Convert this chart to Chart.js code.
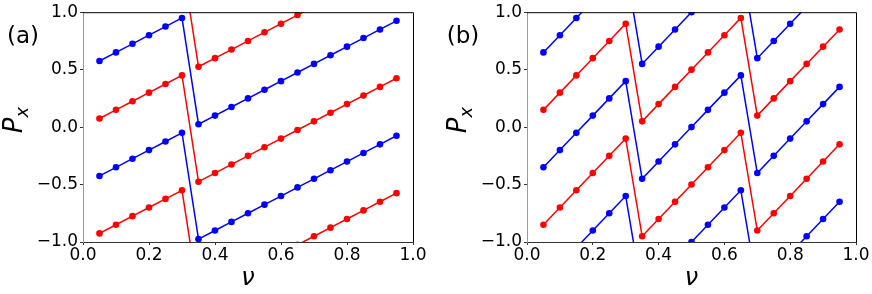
<!DOCTYPE html>
<html>
<head>
<meta charset="utf-8">
<script src="https://cdn.jsdelivr.net/npm/chart.js@4.4.1/dist/chart.umd.min.js"></script>
<style>
  body { margin: 0; background: #fff; }
  #wrap { position: relative; width: 872px; height: 294px; }
  canvas { position: absolute; top: 0; }
</style>
</head>
<body>
<div id="wrap">
  <canvas id="chartA" width="436" height="294" style="left:0"></canvas>
  <canvas id="chartB" width="436" height="294" style="left:436px"></canvas>
</div>
<script>
/* -------- DATA -------- */
const nu = [0.05, 0.10, 0.15, 0.20, 0.25, 0.30, 0.35, 0.40, 0.45, 0.50,
            0.55, 0.60, 0.65, 0.70, 0.75, 0.80, 0.85, 0.90, 0.95];

const xTicks = [0.0, 0.2, 0.4, 0.6, 0.8, 1.0];
const yTicks = [-1.0, -0.5, 0.0, 0.5, 1.0];

// panel (a)
const aBlue1 = [0.575, 0.65, 0.725, 0.80, 0.875, 0.95, 0.025, 0.10, 0.175, 0.25,
                0.325, 0.40, 0.475, 0.55, 0.625, 0.70, 0.775, 0.85, 0.925];
const aBlue2 = [-0.425, -0.35, -0.275, -0.20, -0.125, -0.05, -0.975, -0.90, -0.825, -0.75,
                -0.675, -0.60, -0.525, -0.45, -0.375, -0.30, -0.225, -0.15, -0.075];
const aRed1  = [1.075, 1.15, 1.225, 1.30, 1.375, 1.45, 0.525, 0.60, 0.675, 0.75,
                0.825, 0.90, 0.975, 1.05, 1.125, 1.20, 1.275, 1.35, 1.425];
const aRed2  = [0.075, 0.15, 0.225, 0.30, 0.375, 0.45, -0.475, -0.40, -0.325, -0.25,
                -0.175, -0.10, -0.025, 0.05, 0.125, 0.20, 0.275, 0.35, 0.425];
const aRed3  = [-0.925, -0.85, -0.775, -0.70, -0.625, -0.55, -1.475, -1.40, -1.325, -1.25,
                -1.175, -1.10, -1.025, -0.95, -0.875, -0.80, -0.725, -0.65, -0.575];

// panel (b)
const bBlue1 = [0.65, 0.80, 0.95, 1.10, 1.25, 1.40, 0.55, 0.70, 0.85, 1.00,
                1.15, 1.30, 1.45, 0.60, 0.75, 0.90, 1.05, 1.20, 1.35];
const bBlue2 = [-0.35, -0.20, -0.05, 0.10, 0.25, 0.40, -0.45, -0.30, -0.15, 0.00,
                0.15, 0.30, 0.45, -0.40, -0.25, -0.10, 0.05, 0.20, 0.35];
const bBlue3 = [-1.35, -1.20, -1.05, -0.90, -0.75, -0.60, -1.45, -1.30, -1.15, -1.00,
                -0.85, -0.70, -0.55, -1.40, -1.25, -1.10, -0.95, -0.80, -0.65];
const bRed1  = [0.15, 0.30, 0.45, 0.60, 0.75, 0.90, 0.05, 0.20, 0.35, 0.50,
                0.65, 0.80, 0.95, 0.10, 0.25, 0.40, 0.55, 0.70, 0.85];
const bRed2  = [-0.85, -0.70, -0.55, -0.40, -0.25, -0.10, -0.95, -0.80, -0.65, -0.50,
                -0.35, -0.20, -0.05, -0.90, -0.75, -0.60, -0.45, -0.30, -0.15];

const BLUE = "#0000ff";
const RED = "#ff0000";
const FONT = '"DejaVu Sans", sans-serif';

/* -------- HELPERS -------- */
function fmt(v){
    const s = Math.abs(v).toFixed(1);
    return v < -1e-9 ? "\u2212" + s : s;
}

function series(values, color){
    return {
        data: nu.map((x, i) => ({ x: x, y: values[i] })),
        borderColor: color,
        backgroundColor: color,
        pointBackgroundColor: color,
        borderWidth: 1.5,
        pointRadius: 3.3,
        pointHoverRadius: 3.3,
        pointBorderWidth: 0,
        tension: 0
    };
}

// titles, panel tag and the top/right frame
const decor = {
    id: "decor",
    afterDraw(chart, args, o){
        const ctx = chart.ctx;
        const a = chart.chartArea;
        ctx.save();

        ctx.strokeStyle = "#000";
        ctx.lineWidth = 1;
        ctx.beginPath();
        ctx.moveTo(a.left, a.top + 0.5);
        ctx.lineTo(a.right + 0.5, a.top + 0.5);
        ctx.lineTo(a.right + 0.5, a.bottom);
        ctx.stroke();

        ctx.fillStyle = "#000";
        ctx.textAlign = "center";
        ctx.textBaseline = "middle";
        ctx.font = "23px " + FONT;
        ctx.fillText(o.tag, o.tagX, 37);

        ctx.textBaseline = "alphabetic";
        ctx.font = "italic 24px " + FONT;
        ctx.fillText("\u03bd", (a.left + a.right) / 2, 285);

        // P_x, rotated
        ctx.translate(a.left - 61, 120);
        ctx.rotate(-Math.PI / 2);
        ctx.textAlign = "left";
        ctx.font = "italic 26px " + FONT;
        const wP = ctx.measureText("P").width;
        ctx.font = "italic 18px " + FONT;
        const wx = ctx.measureText("x").width;
        const x0 = -(wP + wx) / 2;
        ctx.font = "italic 26px " + FONT;
        ctx.fillText("P", x0, 0);
        ctx.font = "italic 18px " + FONT;
        ctx.fillText("x", x0 + wP, 6);

        ctx.restore();
    }
};

function makeChart(id, sets, tag, tagX, yWidth, rightPad){
    return new Chart(document.getElementById(id), {
        type: "line",
        data: { datasets: sets },
        options: {
            responsive: false,
            animation: false,
            events: [],
            devicePixelRatio: 1,
            layout: { padding: { top: 11, right: rightPad, bottom: 0, left: 0 } },
            plugins: {
                legend: { display: false },
                tooltip: { enabled: false },
                decor: { tag: tag, tagX: tagX }
            },
            scales: {
                x: {
                    type: "linear",
                    min: 0, max: 1,
                    afterBuildTicks: s => { s.ticks = xTicks.map(v => ({ value: v })); },
                    afterFit: s => { s.height = 52; },
                    ticks: {
                        color: "#000",
                        font: { family: FONT, size: 17 },
                        padding: 0,
                        maxRotation: 0,
                        callback: v => fmt(v)
                    },
                    grid: {
                        drawOnChartArea: false,
                        drawTicks: true,
                        tickLength: 3,
                        tickColor: "#333"
                    },
                    border: { display: true, color: "#333", width: 1 }
                },
                y: {
                    type: "linear",
                    min: -1, max: 1,
                    afterBuildTicks: s => { s.ticks = yTicks.map(v => ({ value: v })); },
                    afterFit: s => { s.width = yWidth; },
                    ticks: {
                        color: "#000",
                        font: { family: FONT, size: 17 },
                        padding: 2,
                        callback: v => fmt(v)
                    },
                    grid: {
                        drawOnChartArea: false,
                        drawTicks: true,
                        tickLength: 3,
                        tickColor: "#333"
                    },
                    border: { display: true, color: "#999", width: 1 }
                }
            }
        },
        plugins: [decor]
    });
}

/* -------- BUILD -------- */
makeChart("chartA",
    [series(aRed1, RED), series(aRed2, RED), series(aRed3, RED),
     series(aBlue1, BLUE), series(aBlue2, BLUE)],
    "(a)", 23, 83, 23);

makeChart("chartB",
    [series(bRed1, RED), series(bRed2, RED),
     series(bBlue1, BLUE), series(bBlue2, BLUE), series(bBlue3, BLUE)],
    "(b)", 27, 91, 16);
</script>
</body>
</html>
